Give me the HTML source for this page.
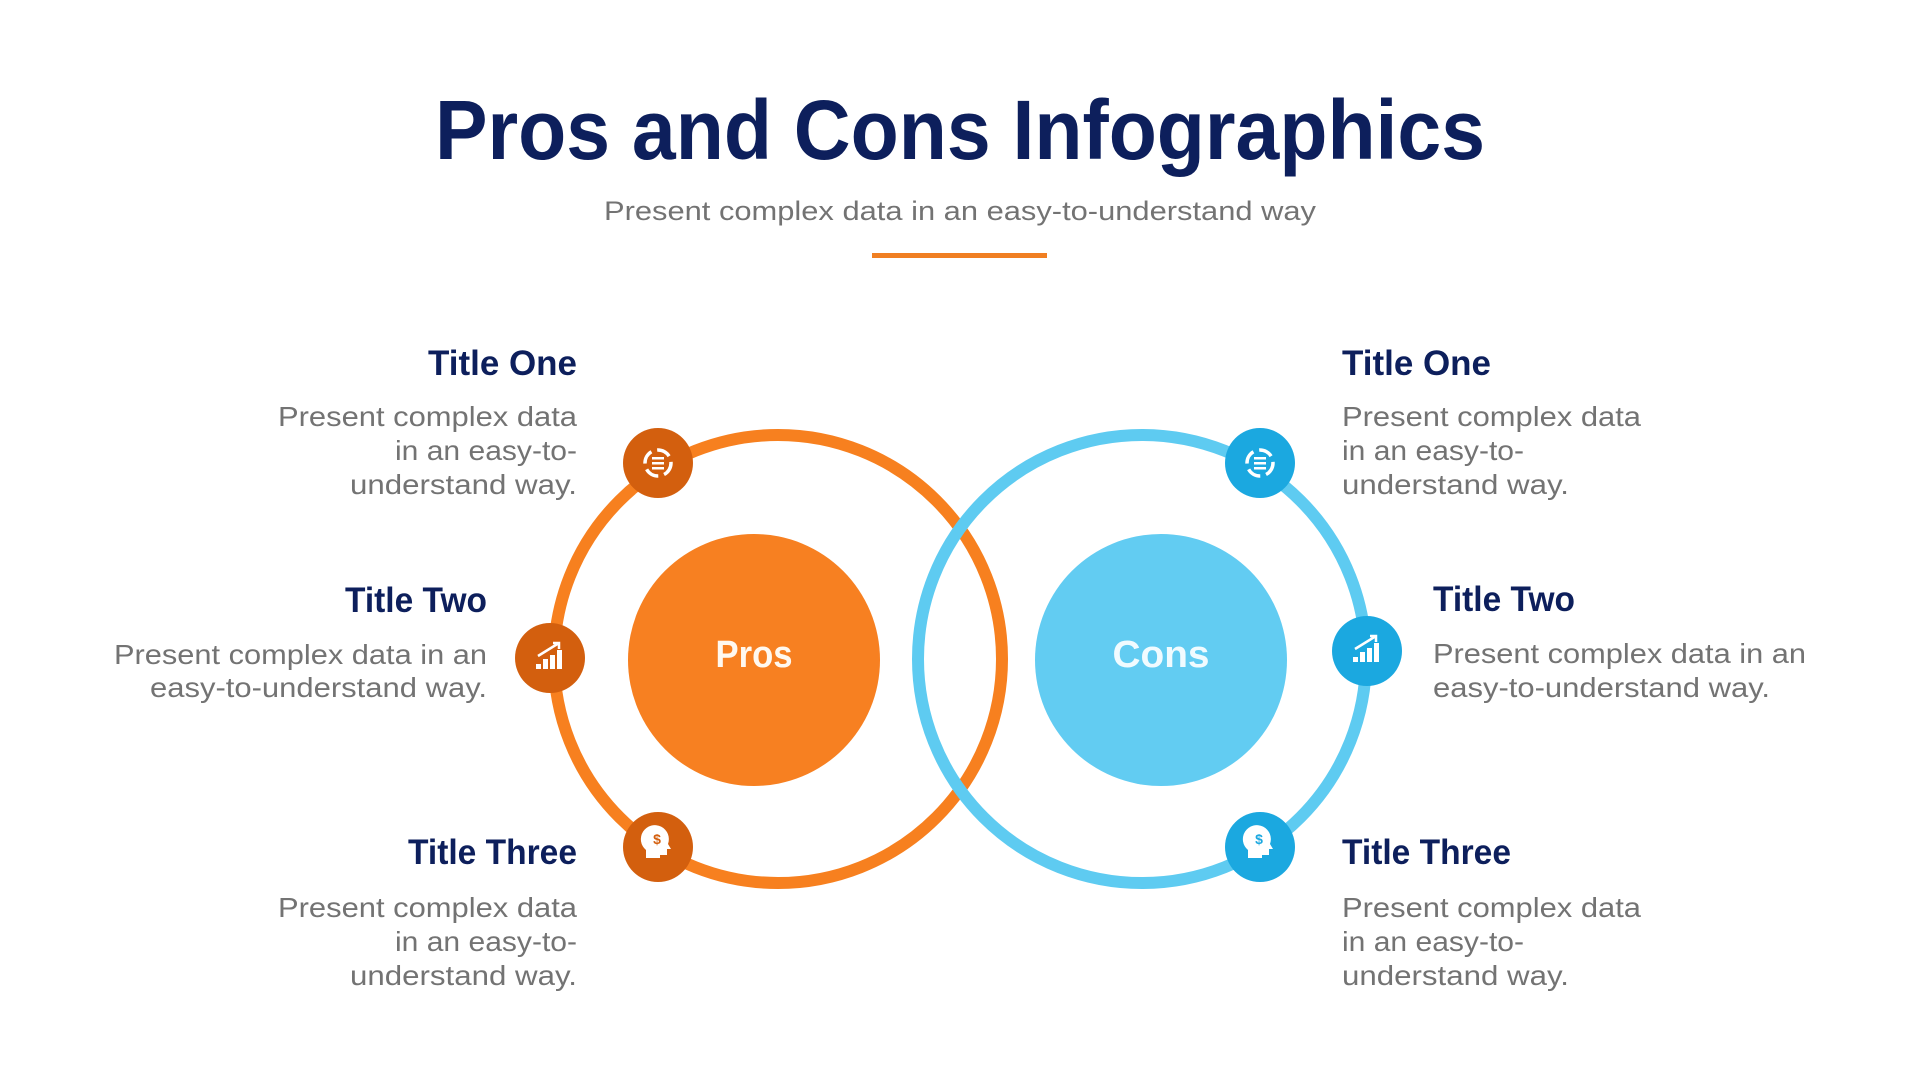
<!DOCTYPE html>
<html><head><meta charset="utf-8"><style>
html,body{margin:0;padding:0;background:#fff;}
svg{display:block;}
text{font-family:"Liberation Sans",sans-serif;}
.t{font-weight:bold;fill:#0d1f5c;font-size:35px;}
.b{fill:#737373;font-size:28px;}
</style></head><body>
<svg width="1920" height="1080" viewBox="0 0 1920 1080">
<text x="960" y="159" text-anchor="middle" font-size="84" font-weight="bold" fill="#0d1f5c" textLength="1050" lengthAdjust="spacingAndGlyphs">Pros and Cons Infographics</text>
<text x="960" y="220" text-anchor="middle" font-size="27" fill="#737373" textLength="712" lengthAdjust="spacingAndGlyphs">Present complex data in an easy-to-understand way</text>
<rect x="872" y="253" width="175" height="5" fill="#f07f22"/>

<circle cx="778" cy="659" r="224" fill="none" stroke="#f7801f" stroke-width="12"/>
<circle cx="1142" cy="659" r="224" fill="none" stroke="#5ecbf1" stroke-width="12"/>
<circle cx="754" cy="660" r="126" fill="#f78021"/>
<circle cx="1161" cy="660" r="126" fill="#62ccf2"/>
<text x="754" y="667" text-anchor="middle" font-size="38" font-weight="bold" fill="#fff8ef" textLength="77" lengthAdjust="spacingAndGlyphs">Pros</text>
<text x="1161" y="667" text-anchor="middle" font-size="38" font-weight="bold" fill="#f0fbff" textLength="97" lengthAdjust="spacingAndGlyphs">Cons</text>

<circle cx="658" cy="463" r="35" fill="#d35f0e"/>
<circle cx="550" cy="658" r="35" fill="#d35f0e"/>
<circle cx="658" cy="847" r="35" fill="#d35f0e"/>
<circle cx="1260" cy="463" r="35" fill="#1ba8e0"/>
<circle cx="1367" cy="651" r="35" fill="#1ba8e0"/>
<circle cx="1260" cy="847" r="35" fill="#1ba8e0"/>

<g fill="none" stroke="#fff" stroke-width="3.5">
<circle cx="658" cy="463" r="13" stroke-dasharray="14 6"/>
<circle cx="1260" cy="463" r="13" stroke-dasharray="14 6"/>
</g>
<g fill="#fff">
<rect x="652" y="457" width="12" height="2.5"/><rect x="652" y="462" width="12" height="2.5"/><rect x="652" y="467" width="12" height="2.5"/>
<rect x="1254" y="457" width="12" height="2.5"/><rect x="1254" y="462" width="12" height="2.5"/><rect x="1254" y="467" width="12" height="2.5"/>
<rect x="536" y="664" width="5" height="5"/><rect x="543" y="659" width="5" height="10"/><rect x="550" y="655" width="5" height="14"/><rect x="557" y="650" width="5" height="19"/>
<rect x="1353" y="657" width="5" height="5"/><rect x="1360" y="652" width="5" height="10"/><rect x="1367" y="648" width="5" height="14"/><rect x="1374" y="643" width="5" height="19"/>
<path d="M646 858 v-8 a14 14 0 1 1 22 -6 l3 5 h-4 v6 h-7 v3z"/>
<path d="M1248 858 v-8 a14 14 0 1 1 22 -6 l3 5 h-4 v6 h-7 v3z"/>
</g>
<g stroke="#fff" stroke-width="2.5" fill="none">
<path d="M538 656 L559 643 M553 643 h6 v6"/>
<path d="M1355 649 L1376 636 M1370 636 h6 v6"/>
</g>
<text x="657" y="844" text-anchor="middle" font-size="14" font-weight="bold" fill="#d35f0e">$</text>
<text x="1259" y="844" text-anchor="middle" font-size="14" font-weight="bold" fill="#1ba8e0">$</text>

<g text-anchor="end" lengthAdjust="spacingAndGlyphs">
<text class="t" x="577" y="375" textLength="149" lengthAdjust="spacingAndGlyphs">Title One</text>
<text class="b" x="577" y="426" textLength="299" lengthAdjust="spacingAndGlyphs">Present complex data</text>
<text class="b" x="577" y="460" textLength="182" lengthAdjust="spacingAndGlyphs">in an easy-to-</text>
<text class="b" x="577" y="494" textLength="227" lengthAdjust="spacingAndGlyphs">understand way.</text>
<text class="t" x="487" y="612" textLength="142" lengthAdjust="spacingAndGlyphs">Title Two</text>
<text class="b" x="487" y="664" textLength="373" lengthAdjust="spacingAndGlyphs">Present complex data in an</text>
<text class="b" x="487" y="697" textLength="337" lengthAdjust="spacingAndGlyphs">easy-to-understand way.</text>
<text class="t" x="577" y="864" textLength="169" lengthAdjust="spacingAndGlyphs">Title Three</text>
<text class="b" x="577" y="917" textLength="299" lengthAdjust="spacingAndGlyphs">Present complex data</text>
<text class="b" x="577" y="951" textLength="182" lengthAdjust="spacingAndGlyphs">in an easy-to-</text>
<text class="b" x="577" y="985" textLength="227" lengthAdjust="spacingAndGlyphs">understand way.</text>
</g>
<g>
<text class="t" x="1342" y="375" textLength="149" lengthAdjust="spacingAndGlyphs">Title One</text>
<text class="b" x="1342" y="426" textLength="299" lengthAdjust="spacingAndGlyphs">Present complex data</text>
<text class="b" x="1342" y="460" textLength="182" lengthAdjust="spacingAndGlyphs">in an easy-to-</text>
<text class="b" x="1342" y="494" textLength="227" lengthAdjust="spacingAndGlyphs">understand way.</text>
<text class="t" x="1433" y="611" textLength="142" lengthAdjust="spacingAndGlyphs">Title Two</text>
<text class="b" x="1433" y="663" textLength="373" lengthAdjust="spacingAndGlyphs">Present complex data in an</text>
<text class="b" x="1433" y="697" textLength="337" lengthAdjust="spacingAndGlyphs">easy-to-understand way.</text>
<text class="t" x="1342" y="864" textLength="169" lengthAdjust="spacingAndGlyphs">Title Three</text>
<text class="b" x="1342" y="917" textLength="299" lengthAdjust="spacingAndGlyphs">Present complex data</text>
<text class="b" x="1342" y="951" textLength="182" lengthAdjust="spacingAndGlyphs">in an easy-to-</text>
<text class="b" x="1342" y="985" textLength="227" lengthAdjust="spacingAndGlyphs">understand way.</text>
</g>
</svg>
</body></html>
